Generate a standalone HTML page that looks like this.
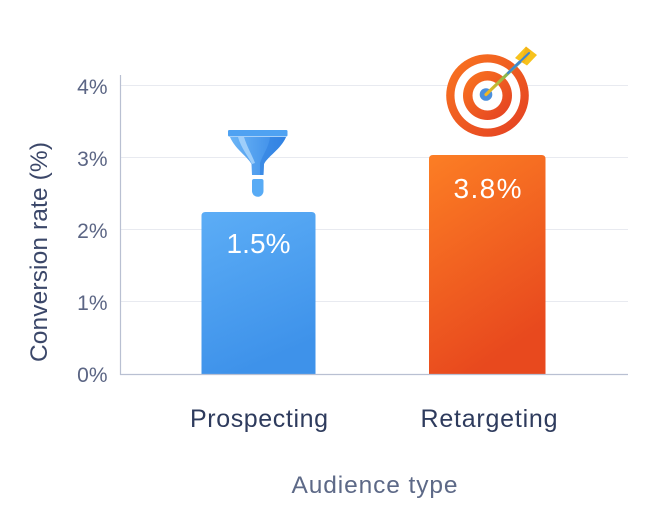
<!DOCTYPE html>
<html>
<head>
<meta charset="utf-8">
<style>
  html, body { margin: 0; padding: 0; background: #ffffff; }
  body { width: 653px; height: 519px; overflow: hidden; }
  svg { display: block; }
  text { font-family: "Liberation Sans", "DejaVu Sans", sans-serif; }
</style>
</head>
<body>
<svg width="653" height="519" viewBox="0 0 653 519" xmlns="http://www.w3.org/2000/svg">
  <defs>
    <linearGradient id="gBlue" x1="0" y1="0" x2="0.3" y2="1">
      <stop offset="0" stop-color="#5cadf6"/>
      <stop offset="1" stop-color="#3e92ea"/>
    </linearGradient>
    <linearGradient id="gOrange" x1="0" y1="0" x2="0.35" y2="1">
      <stop offset="0" stop-color="#fc7e24"/>
      <stop offset="1" stop-color="#e8491e"/>
    </linearGradient>
    <linearGradient id="gFunnel" x1="0" y1="0" x2="1" y2="0">
      <stop offset="0" stop-color="#6cb5f6"/>
      <stop offset="1" stop-color="#3486e6"/>
    </linearGradient>
    <linearGradient id="gTarget" x1="0" y1="0" x2="1" y2="1">
      <stop offset="0" stop-color="#fa7620"/>
      <stop offset="1" stop-color="#e33f22"/>
    </linearGradient>
    <linearGradient id="gShaft" x1="0" y1="1" x2="1" y2="0">
      <stop offset="0" stop-color="#f6b61e"/>
      <stop offset="0.5" stop-color="#8fb94a"/>
      <stop offset="1" stop-color="#3f8ad8"/>
    </linearGradient>
  </defs>

  <!-- gridlines -->
  <g stroke="#e8eaf0" stroke-width="1">
    <line x1="121" y1="85.5" x2="628" y2="85.5"/>
    <line x1="121" y1="157.5" x2="628" y2="157.5"/>
    <line x1="121" y1="229.5" x2="628" y2="229.5"/>
    <line x1="121" y1="301.5" x2="628" y2="301.5"/>
  </g>

  <!-- bars -->
  <path d="M201.5 375 L201.5 216 Q201.5 212 205.5 212 L311.5 212 Q315.5 212 315.5 216 L315.5 375 Z" fill="url(#gBlue)"/>
  <path d="M429 375 L429 159 Q429 155 433 155 L541.5 155 Q545.5 155 545.5 159 L545.5 375 Z" fill="url(#gOrange)"/>

  <!-- axes -->
  <line x1="120.5" y1="75" x2="120.5" y2="375" stroke="#b9c0d2" stroke-width="1.2"/>
  <line x1="120" y1="374.5" x2="628" y2="374.5" stroke="#b9c0d2" stroke-width="1.2"/>

  <!-- y tick labels -->
  <g font-size="21" fill="#5b6584" text-anchor="end">
    <text x="107.5" y="94">4%</text>
    <text x="107.5" y="166">3%</text>
    <text x="107.5" y="238">2%</text>
    <text x="107.5" y="310">1%</text>
    <text x="107.5" y="382">0%</text>
  </g>

  <!-- y axis title -->
  <text transform="translate(47,252) rotate(-90)" font-size="24.5" fill="#3b4769" text-anchor="middle" textLength="220" lengthAdjust="spacing">Conversion rate (%)</text>

  <!-- bar value labels -->
  <text x="258.5" y="253" font-size="28" fill="#ffffff" text-anchor="middle" textLength="64" lengthAdjust="spacing">1.5%</text>
  <text x="487.5" y="198" font-size="28" fill="#ffffff" text-anchor="middle" textLength="68" lengthAdjust="spacing">3.8%</text>

  <!-- x category labels -->
  <g font-size="25" fill="#2e3b5d" text-anchor="middle">
    <text x="259" y="427" textLength="138" lengthAdjust="spacing">Prospecting</text>
    <text x="489" y="427" textLength="137" lengthAdjust="spacing">Retargeting</text>
  </g>

  <!-- x axis title -->
  <text x="374.5" y="493" font-size="24.5" fill="#5d6987" text-anchor="middle" textLength="166" lengthAdjust="spacing">Audience type</text>

  <!-- funnel icon -->
  <rect x="228" y="130" width="59.5" height="6.5" rx="1.2" fill="#4fa2f2"/>
  <path d="M230 137 L286 137 C281 149 268 156 264 164 L263.5 175 L252 175 L251.5 164 C247 156 235 149 230 137 Z" fill="url(#gFunnel)"/>
  <path d="M238 137 L244 137 C247 147 252 155 255 163 L252 164 C248 156 241 148 238 137 Z" fill="#a9d5fb" opacity="0.85"/>
  <path d="M270 137 L286 137 C281 149 268 156 264 164 L263.5 175 L260 175 L260 163 C263 154 269 147 270 137 Z" fill="#2f7fe0" opacity="0.55"/>
  <path d="M252 181 Q252 179 254 179 L261.5 179 Q263.5 179 263.5 181 L263.5 191 A5.75 5.75 0 0 1 252 191 Z" fill="#58abf5"/>

  <!-- target icon -->
  <circle cx="487.5" cy="95.5" r="41.3" fill="url(#gTarget)"/>
  <circle cx="487.5" cy="95.5" r="33" fill="#ffffff"/>
  <circle cx="487.5" cy="95.5" r="24.5" fill="url(#gTarget)"/>
  <circle cx="487.5" cy="95.5" r="15" fill="#ffffff"/>
  <circle cx="486" cy="94.5" r="6.3" fill="#4a8fdc"/>
  <!-- arrow -->
  <line x1="486" y1="94.5" x2="524" y2="58" stroke="url(#gShaft)" stroke-width="3.2" stroke-linecap="round"/>
  <path d="M515 58 L526 46.5 L537 55 L527 65.5 Z" fill="#f7c21d"/>
  <path d="M521 62 L526 46.5 L531 51 L524 63 Z" fill="#f1a912" opacity="0.6"/>
  <line x1="508" y1="73" x2="529" y2="53" stroke="#3c86d4" stroke-width="2" stroke-linecap="round"/>
</svg>
</body>
</html>
